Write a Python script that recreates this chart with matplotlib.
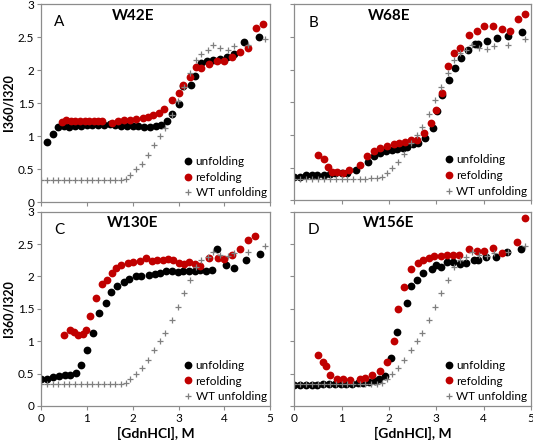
# 四个突变体的 GdnHCl 变性/复性曲线 (I360/I320)
import matplotlib
matplotlib.use('Agg')
import matplotlib.pyplot as plt

plt.rcParams['font.family'] = ['Lato', 'DejaVu Sans']

# 野生型 unfolding（四个图共用）
wt_x = [0.0, 0.12, 0.25, 0.38, 0.5, 0.62, 0.75, 0.88, 1.0, 1.12, 1.25, 1.38, 1.5, 1.62, 1.75, 1.85,
        1.95, 2.07, 2.2, 2.33, 2.46, 2.59, 2.71, 2.85, 2.98, 3.11, 3.25, 3.38, 3.5, 3.64, 3.75,
        3.9, 4.07, 4.22, 4.52, 4.88]
wt_y = [0.33, 0.33, 0.33, 0.33, 0.33, 0.33, 0.33, 0.33, 0.33, 0.33, 0.33, 0.33, 0.33, 0.34, 0.34, 0.35,
        0.41, 0.5, 0.58, 0.71, 0.87, 1.0, 1.12, 1.32, 1.53, 1.74, 1.95, 2.15, 2.25, 2.3, 2.38,
        2.33, 2.31, 2.36, 2.38, 2.47]

# A: W42E
a_unf_x = [0.12, 0.25, 0.38, 0.5, 0.62, 0.75, 0.88, 1.0, 1.12, 1.25, 1.38, 1.5, 1.62, 1.75, 1.88, 2.0,
           2.12, 2.25, 2.38, 2.5, 2.62, 2.75, 2.85, 3.0, 3.1, 3.28, 3.36, 3.5, 3.62, 3.75, 3.9, 4.05,
           4.2, 4.42, 4.76]
a_unf_y = [0.91, 1.03, 1.14, 1.15, 1.14, 1.15, 1.15, 1.16, 1.16, 1.17, 1.17, 1.18, 1.17, 1.15, 1.15, 1.15,
           1.15, 1.13, 1.14, 1.15, 1.16, 1.22, 1.33, 1.48, 1.76, 1.77, 1.91, 2.1, 2.13, 2.15, 2.17, 2.2,
           2.25, 2.43, 2.5]
a_ref_x = [0.45, 0.55, 0.65, 0.75, 0.85, 0.95, 1.05, 1.15, 1.25, 1.32, 1.55, 1.68, 1.8, 1.93, 2.08, 2.22,
           2.33, 2.44, 2.57, 2.69, 2.86, 3.0, 3.09, 3.25, 3.38, 3.49, 3.66, 3.84, 4.0, 4.16, 4.33, 4.51,
           4.68, 4.84]
a_ref_y = [1.21, 1.24, 1.23, 1.22, 1.23, 1.22, 1.23, 1.22, 1.23, 1.22, 1.2, 1.22, 1.24, 1.25, 1.26, 1.27,
           1.29, 1.32, 1.35, 1.41, 1.54, 1.65, 1.77, 1.9, 2.05, 2.03, 2.09, 2.14, 2.14, 2.2, 2.27, 2.33,
           2.63, 2.69]

# B: W68E
b_unf_x = [0.0, 0.12, 0.25, 0.37, 0.49, 0.62, 0.75, 0.87, 1.0, 1.12, 1.3, 1.55, 1.68, 1.81, 1.94, 2.06,
           2.18, 2.3, 2.39, 2.5, 2.62, 2.76, 2.94, 3.01, 3.13, 3.28, 3.4, 3.52, 3.67, 3.82, 3.89, 4.08,
           4.28, 4.52, 4.82]
b_unf_y = [0.35, 0.36, 0.38, 0.39, 0.39, 0.39, 0.4, 0.41, 0.41, 0.42, 0.46, 0.59, 0.68, 0.72, 0.75, 0.77,
           0.78, 0.8, 0.81, 0.86, 0.88, 0.95, 1.11, 1.36, 1.62, 1.84, 2.02, 2.18, 2.3, 2.4, 2.4, 2.44,
           2.48, 2.51, 2.58]
b_ref_x = [0.51, 0.62, 0.71, 0.79, 0.91, 1.03, 1.16, 1.4, 1.54, 1.68, 1.81, 1.95, 2.11, 2.21, 2.35, 2.46,
           2.6, 2.74, 2.89, 3.0, 3.13, 3.24, 3.37, 3.51, 3.7, 3.86, 4.01, 4.21, 4.38, 4.55, 4.73, 4.87]
b_ref_y = [0.7, 0.63, 0.51, 0.43, 0.43, 0.42, 0.46, 0.54, 0.68, 0.76, 0.8, 0.83, 0.86, 0.87, 0.9, 0.92,
           0.93, 1.03, 1.18, 1.38, 1.64, 2.05, 2.26, 2.34, 2.53, 2.59, 2.67, 2.67, 2.62, 2.59, 2.78, 2.86]

# C: W130E
c_unf_x = [0.0, 0.12, 0.27, 0.4, 0.53, 0.64, 0.76, 0.88, 1.01, 1.14, 1.27, 1.41, 1.52, 1.66, 1.8, 1.92,
           2.07, 2.19, 2.35, 2.48, 2.6, 2.72, 2.86, 2.99, 3.09, 3.22, 3.35, 3.47, 3.6, 3.72, 3.83, 4.04,
           4.22, 4.47, 4.78]
c_unf_y = [0.41, 0.42, 0.44, 0.46, 0.47, 0.48, 0.51, 0.63, 0.86, 1.12, 1.44, 1.59, 1.76, 1.85, 1.92, 1.96,
           2.0, 2.0, 2.03, 2.04, 2.06, 2.08, 2.09, 2.07, 2.08, 2.08, 2.09, 2.1, 2.08, 2.1, 2.43, 2.17,
           2.13, 2.26, 2.35]
c_ref_x = [0.51, 0.63, 0.72, 0.81, 0.91, 0.98, 1.07, 1.2, 1.34, 1.43, 1.54, 1.64, 1.75, 1.9, 2.01, 2.15,
           2.28, 2.41, 2.53, 2.66, 2.77, 2.88, 3.02, 3.12, 3.22, 3.35, 3.46, 3.67, 3.86, 4.0, 4.16, 4.33,
           4.51, 4.67]
c_ref_y = [1.1, 1.17, 1.14, 1.09, 1.11, 1.18, 1.39, 1.66, 1.89, 1.94, 2.06, 2.13, 2.17, 2.21, 2.22, 2.24,
           2.28, 2.24, 2.26, 2.26, 2.27, 2.26, 2.21, 2.19, 2.22, 2.19, 2.16, 2.28, 2.28, 2.27, 2.33, 2.43,
           2.57, 2.62]

# D: W156E
d_unf_x = [0.0, 0.12, 0.25, 0.37, 0.49, 0.61, 0.73, 0.86, 0.98, 1.1, 1.22, 1.34, 1.46, 1.58, 1.7, 1.8,
           1.92, 2.04, 2.18, 2.39, 2.46, 2.6, 2.73, 2.92, 2.99, 3.11, 3.22, 3.35, 3.5, 3.64, 3.8, 3.89,
           4.05, 4.26, 4.49, 4.8]
d_unf_y = [0.32, 0.32, 0.32, 0.32, 0.32, 0.33, 0.33, 0.33, 0.34, 0.34, 0.34, 0.35, 0.36, 0.37, 0.39, 0.42,
           0.46, 0.74, 1.14, 1.59, 1.86, 1.94, 2.06, 2.12, 2.17, 2.14, 2.22, 2.22, 2.19, 2.21, 2.26, 2.26,
           2.3, 2.3, 2.38, 2.42]
d_ref_x = [0.51, 0.61, 0.68, 0.76, 0.91, 1.04, 1.17, 1.38, 1.5, 1.65, 1.82, 1.95, 2.11, 2.2, 2.32, 2.46,
           2.62, 2.72, 2.85, 2.96, 3.1, 3.22, 3.35, 3.49, 3.69, 3.86, 4.0, 4.2, 4.38, 4.71, 4.87]
d_ref_y = [0.78, 0.68, 0.61, 0.48, 0.41, 0.41, 0.4, 0.41, 0.43, 0.47, 0.54, 0.68, 1.0, 1.49, 1.84, 2.12,
           2.21, 2.25, 2.28, 2.31, 2.31, 2.33, 2.33, 2.33, 2.43, 2.4, 2.4, 2.44, 2.36, 2.53, 2.9]

panel_letters = ['A', 'B', 'C', 'D']
panel_names = ['W42E', 'W68E', 'W130E', 'W156E']
x_ticks = [0, 1, 2, 3, 4, 5]
y_ticks = [0, 0.5, 1, 1.5, 2, 2.5, 3]
y_ticklabels = ['0', '0.5', '1', '1.5', '2', '2.5', '3']

panels = [
    (a_unf_x, a_unf_y, a_ref_x, a_ref_y),
    (b_unf_x, b_unf_y, b_ref_x, b_ref_y),
    (c_unf_x, c_unf_y, c_ref_x, c_ref_y),
    (d_unf_x, d_unf_y, d_ref_x, d_ref_y),
]

# 坐标轴位置（图像像素换算而来）
positions = [
    [0.077, 0.546, 0.430, 0.445],
    [0.552, 0.550, 0.444, 0.440],
    [0.077, 0.088, 0.430, 0.436],
    [0.552, 0.088, 0.444, 0.436],
]

frame_color = '#8c8c8c'
red = '#c00000'

fig = plt.figure(figsize=(5.33, 4.45), dpi=100)

for i, (ux, uy, rx, ry) in enumerate(panels):
    ax = fig.add_axes(positions[i])
    ax.plot(ux, uy, 'o', color='black', markersize=5.6, markeredgewidth=0, label='unfolding')
    ax.plot(rx, ry, 'o', color=red, markersize=5.6, markeredgewidth=0, label='refolding')
    ax.plot(wt_x, wt_y, '+', color='#7f7f7f', markersize=5, markeredgewidth=0.9, label='WT unfolding')

    ax.set_xlim(0, 5)
    ax.set_ylim(0, 3)
    ax.set_xticks(x_ticks)
    ax.set_yticks(y_ticks)
    for s in ax.spines.values():
        s.set_color(frame_color)
        s.set_linewidth(0.9)
    ax.tick_params(direction='out', length=3, width=0.8, color=frame_color, labelsize=8.5, pad=2)

    if i % 2 == 0:
        ax.set_yticklabels(y_ticklabels)
        ax.set_ylabel('I360/I320', fontsize=9, fontweight='bold', labelpad=2)
    else:
        ax.set_yticklabels([])
    if i >= 2:
        ax.set_xticklabels([str(t) for t in x_ticks])
        ax.set_xlabel('[GdnHCl], M', fontsize=10, fontweight='bold', labelpad=2)
    else:
        ax.set_xticklabels([])

    ax.text(0.4, 2.72, panel_letters[i], fontsize=11, ha='center', va='center')
    ax.text(2.0, 2.82, panel_names[i], fontsize=11, fontweight='bold', ha='center', va='center')

    ax.legend(loc='lower right', frameon=False, fontsize=8.5, handletextpad=0.05,
              labelspacing=0.4, borderaxespad=0.1, handlelength=1.2, borderpad=0.2)

plt.savefig('out.png', dpi=100)
